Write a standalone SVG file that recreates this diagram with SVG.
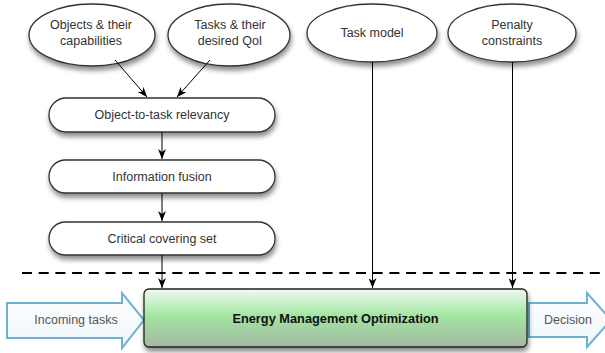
<svg xmlns="http://www.w3.org/2000/svg" width="605" height="353" viewBox="0 0 605 353">
  <defs>
    <filter id="shadow" x="-20%" y="-30%" width="140%" height="170%">
      <feDropShadow dx="1" dy="4" stdDeviation="2.5" flood-color="#000" flood-opacity="0.45"/>
    </filter>
    <linearGradient id="greenFill" x1="0" y1="0" x2="0" y2="1">
      <stop offset="0" stop-color="#f0fbf0"/>
      <stop offset="0.45" stop-color="#a3e6a3"/>
      <stop offset="1" stop-color="#a2b8a2"/>
    </linearGradient>
    <linearGradient id="blueFill" x1="0" y1="0" x2="0" y2="1">
      <stop offset="0" stop-color="#ffffff"/>
      <stop offset="1" stop-color="#eef6fa"/>
    </linearGradient>
    <marker id="arrow" viewBox="0 0 10 8" refX="10" refY="4" markerWidth="10" markerHeight="8" markerUnits="userSpaceOnUse" orient="auto">
      <path d="M0,0 L10,4 L0,8 L3,4 z" fill="#000"/>
    </marker>
    <style>
      .node { fill: #fff; stroke: #333; stroke-width: 1.3; filter: url(#shadow); }
      .lbl { font-family: "Liberation Sans", Arial, sans-serif; font-size: 12.5px; fill: #333; text-anchor: middle; }
      .edge { stroke: #000; stroke-width: 1; fill: none; marker-end: url(#arrow); }
      .flow { fill: url(#blueFill); stroke: #6fb2cf; stroke-width: 2; }
      .flowlbl { font-family: "Liberation Sans", Arial, sans-serif; font-size: 12.5px; fill: #555; text-anchor: middle; }
    </style>
  </defs>

  <rect width="605" height="353" fill="#fff"/>

  <!-- input ellipses -->
  <g id="objects">
    <ellipse class="node" cx="92" cy="35" rx="63" ry="31"/>
    <text class="lbl" x="91" y="29">Objects &amp; their</text>
    <text class="lbl" x="91" y="45">capabilities</text>
  </g>
  <g id="tasks">
    <ellipse class="node" cx="229" cy="35" rx="61" ry="31"/>
    <text class="lbl" x="230" y="29">Tasks &amp; their</text>
    <text class="lbl" x="230" y="45">desired QoI</text>
  </g>
  <g id="task-model">
    <ellipse class="node" cx="372" cy="33" rx="65" ry="29"/>
    <text class="lbl" x="372" y="37">Task model</text>
  </g>
  <g id="penalty">
    <ellipse class="node" cx="512" cy="33" rx="64" ry="29"/>
    <text class="lbl" x="512" y="29">Penalty</text>
    <text class="lbl" x="512" y="45">constraints</text>
  </g>

  <!-- processing steps -->
  <g id="relevancy">
    <rect class="node" x="49" y="98" width="226" height="34" rx="17"/>
    <text class="lbl" x="162" y="119">Object-to-task relevancy</text>
  </g>
  <g id="fusion">
    <rect class="node" x="49" y="160" width="226" height="33" rx="16.5"/>
    <text class="lbl" x="162" y="181">Information fusion</text>
  </g>
  <g id="covering">
    <rect class="node" x="49" y="222" width="226" height="33" rx="16.5"/>
    <text class="lbl" x="162" y="243">Critical covering set</text>
  </g>

  <!-- separator -->
  <line x1="22" y1="273" x2="605" y2="273" stroke="#000" stroke-width="2" stroke-dasharray="10,6.7"/>

  <!-- flow arrows -->
  <g id="incoming">
    <path class="flow" d="M7,303 L122,303 L122,293 L144,320 L122,348 L122,338 L7,338 Z"/>
    <text class="flowlbl" x="76" y="324">Incoming tasks</text>
  </g>
  <g id="decision">
    <path class="flow" d="M529,303 L587,303 L587,293 L611,320 L587,347 L587,337 L529,337 Z"/>
    <text class="flowlbl" x="568" y="324">Decision</text>
  </g>

  <!-- optimizer -->
  <g id="optimization">
    <rect x="144" y="289" width="383" height="58" rx="5" fill="url(#greenFill)" stroke="#222" stroke-width="1.3" filter="url(#shadow)"/>
    <text x="335.5" y="323" font-family="'Liberation Sans', Arial, sans-serif" font-size="12.8px" font-weight="bold" fill="#111" text-anchor="middle">Energy Management Optimization</text>
  </g>

  <!-- connectors -->
  <g id="connectors">
    <line class="edge" x1="115" y1="60" x2="147" y2="97"/>
    <line class="edge" x1="210" y1="60" x2="177" y2="97"/>
    <line class="edge" x1="162" y1="132" x2="162" y2="159"/>
    <line class="edge" x1="162" y1="193" x2="162" y2="221"/>
    <line class="edge" x1="162" y1="255" x2="162" y2="288"/>
    <line class="edge" x1="372.5" y1="62" x2="372.5" y2="288"/>
    <line class="edge" x1="512.5" y1="62" x2="512.5" y2="288"/>
  </g>
</svg>
